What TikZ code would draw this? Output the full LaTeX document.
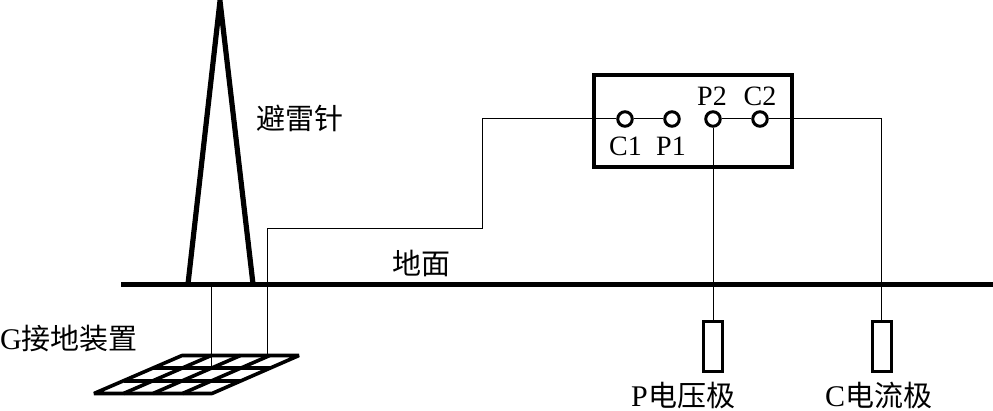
\documentclass[tikz,border=0pt]{standalone}
\usepackage{fontspec}
\setmainfont{Liberation Serif}
\newfontfamily\cjk{Noto Sans CJK SC}
\tikzset{
  thick line/.style={line cap=butt,line join=miter},
  wire/.style={line width=1pt,black},
  terminal/.style={circle,draw,line width=3pt,minimum size=14.5pt,inner sep=0pt,fill=white},
  electrode/.style={rectangle,draw,line width=3pt,minimum width=19pt,minimum height=50pt,inner sep=0pt},
  device/.style={rectangle,draw,line width=3.5pt,minimum width=198pt,minimum height=92pt,inner sep=0pt},
  lat/.style={font=\fontsize{28}{30}\selectfont,inner sep=0pt},
  han/.style={font=\fontsize{29}{31}\selectfont\cjk,inner sep=0pt}
}
\newcommand{\latinhead}[1]{{\fontsize{30}{31}\selectfont\rmfamily #1}}
\begin{document}
\begin{tikzpicture}[x=1pt,y=-1pt]
\useasboundingbox (0,0) rectangle (993,411);
% named points
\coordinate (apex) at (220,1);
\coordinate (footL) at (188,284);
\coordinate (footR) at (253,284);
\coordinate (gndL) at (121,284.7);
\coordinate (gndR) at (993,284.7);
\coordinate (gridA) at (211,368);
\coordinate (gridB) at (267,355);
\coordinate (b1) at (267,229);
\coordinate (b2) at (482,229);
\coordinate (b3) at (482,119);
\coordinate (b4) at (881,119);
% tower and ground
\draw[thick line,line width=5.2pt] (footL) -- (apex) -- (footR);
\draw[thick line,line width=4.4pt] (gndL) -- (gndR);
% device and terminals
\node[device] (dev) at (693,121) {};
\node[terminal] (C1) at (625,119) {};
\node[terminal] (P1) at (672,119) {};
\node[terminal] (P2) at (713,119) {};
\node[terminal] (C2) at (760,119) {};
% electrodes
\node[electrode] (PE) at (713,346.5) {};
\node[electrode] (CE) at (881.5,346.5) {};
% connectors
\draw[wire] (C1) -- (b3) -- (b2) -- (b1) -- (gridB);
\draw[wire] (C1) -- (P1);
\draw[wire] (P2) -- (C2);
\draw[wire] (C2) -- (b4) -- (CE.north -| b4);
\draw[wire] (P2) -- (PE);
\draw[wire] (footL -| gridA) -- (gridA);
% grounding grid
\begin{scope}[line width=3.6pt,line cap=butt,line join=bevel]
\draw (182,355.5) -- (299,355.5) -- (212,393.5) -- (94,393.5) -- cycle;
\draw (153,368) -- (270,368);
\draw (124,381) -- (241,381);
\draw (211.25,355.5) -- (123.5,393.5);
\draw (240.5,355.5) -- (153,393.5);
\draw (269.75,355.5) -- (182.5,393.5);
\end{scope}
% labels
\node[han] (lbA) at (299.5,118) {避雷针};
\node[han] (lbB) at (421.5,263) {地面};
\node[han,anchor=west] (lbC) at (0,339) {\latinhead{G}接地装置};
\node[han,anchor=west] (lbD) at (631,395) {\latinhead{P}\hspace{1pt}电压极};
\node[han,anchor=west] (lbE) at (825,395) {\latinhead{C}电流极};
\node[lat] (tC1) at (625.5,146) {C1};
\node[lat] (tP1) at (671,146) {P1};
\node[lat] (tP2) at (712,96) {P2};
\node[lat] (tC2) at (760,96) {C2};
\end{tikzpicture}
\end{document}
